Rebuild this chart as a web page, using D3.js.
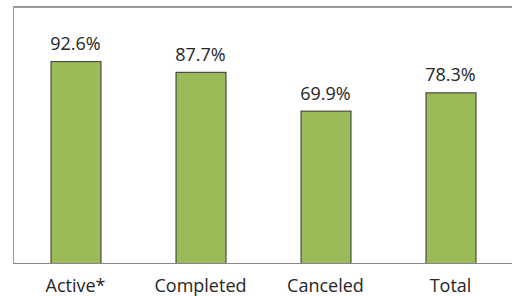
<!DOCTYPE html>
<html>
<head>
<meta charset="utf-8">
<script src="https://cdn.jsdelivr.net/npm/d3@7"></script>
<style>
  body { margin: 0; background: #fff; }
  text { font-family: "Open Sans", sans-serif; fill: #262626; }
</style>
</head>
<body>
<div id="chart"></div>
<script>
const categories = ["Active*", "Completed", "Canceled", "Total"];
const values = [92.6, 87.7, 69.9, 78.3];
const valueLabels = ["92.6%", "87.7%", "69.9%", "78.3%"];

const width = 512, height = 296;
const padLeft = 13, padTop = 7, baseline = 263;

const svg = d3.select("#chart")
    .append("svg")
    .attr("width", width)
    .attr("height", height);

const x = d3.scaleBand()
    .domain(categories)
    .range([padLeft, padLeft + 500])
    .paddingInner(0.6)
    .paddingOuter(0.3);

const y = d3.scaleLinear()
    .domain([0, 100])
    .range([baseline, baseline - 218]);

// frame
svg.append("line")
    .attr("x1", padLeft).attr("x2", width)
    .attr("y1", padTop).attr("y2", padTop)
    .attr("stroke", "#999").attr("stroke-width", 2);
svg.append("line")
    .attr("x1", padLeft + 0.5).attr("x2", padLeft + 0.5)
    .attr("y1", padTop).attr("y2", baseline)
    .attr("stroke", "#999").attr("stroke-width", 1);

svg.selectAll(".bar")
    .data(values)
    .enter()
    .append("rect")
    .attr("class", "bar")
    .attr("x", (d, i) => x(categories[i]) + 0.5)
    .attr("y", d => y(d) + 0.5)
    .attr("width", x.bandwidth())
    .attr("height", d => baseline - y(d))
    .attr("fill", "#9bbb59")
    .attr("stroke", "#333")
    .attr("stroke-width", 1);

// x axis line
svg.append("line")
    .attr("x1", padLeft).attr("x2", width)
    .attr("y1", baseline + 0.5).attr("y2", baseline + 0.5)
    .attr("stroke", "#888").attr("stroke-width", 1);

svg.selectAll(".val")
    .data(values)
    .enter()
    .append("text")
    .attr("class", "val")
    .attr("x", (d, i) => x(categories[i]) + x.bandwidth() / 2)
    .attr("y", d => y(d) - 11)
    .attr("text-anchor", "middle")
    .attr("font-size", "18px")
    .text((d, i) => valueLabels[i]);

svg.selectAll(".cat")
    .data(categories)
    .enter()
    .append("text")
    .attr("class", "cat")
    .attr("x", d => x(d) + x.bandwidth() / 2)
    .attr("y", 292)
    .attr("text-anchor", "middle")
    .attr("font-size", "18px")
    .text(d => d);
</script>
</body>
</html>
